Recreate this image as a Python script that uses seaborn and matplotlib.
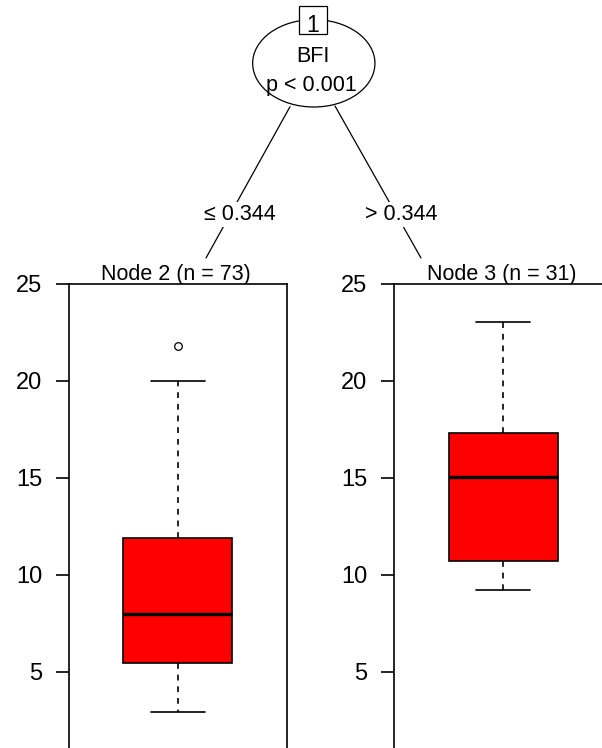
import matplotlib
matplotlib.use("Agg")
import matplotlib.pyplot as plt
from matplotlib.patches import Ellipse, Rectangle
import seaborn as sns

# ---- data ----
node_labels = ["Node 2 (n = 73)", "Node 3 (n = 31)"]
split_var = "BFI"
split_p = "p < 0.001"
edge_labels = ["\u2264 0.344", "> 0.344"]
whis_lo = [2.9, 9.2]
q1 = [5.46, 10.7]
median = [8.0, 15.05]
q3 = [11.9, 17.3]
whis_hi = [20.0, 23.05]
fliers = [[21.8], []]
yticks = [5, 10, 15, 20, 25]
y_min, y_max = 1.07, 25

sns.set_style("white")
plt.rcParams["font.family"] = ["Liberation Sans", "DejaVu Sans"]
plt.rcParams["text.color"] = "black"
plt.rcParams["axes.labelcolor"] = "black"

W, H = 602, 748
fig = plt.figure(figsize=(W / 100, H / 100), dpi=100)


def px_axes(x0, y0, x1, y1):
    return fig.add_axes([x0 / W, 1 - y1 / H, (x1 - x0) / W, (y1 - y0) / H])


# overlay for the tree part (pixel coordinates)
ax_t = px_axes(0, 0, W, H)
ax_t.set_xlim(0, W)
ax_t.set_ylim(H, 0)
ax_t.axis("off")
ax_t.patch.set_alpha(0)

FS_TXT = 15.5
FS_TICK = 17

# edges
ax_t.plot([290, 206], [106.7, 258], color="black", lw=0.9, zorder=1)
ax_t.plot([335, 421], [106.0, 258], color="black", lw=0.9, zorder=1)
bbox = dict(facecolor="white", edgecolor="none", pad=1.5)
ax_t.text(240, 220, edge_labels[0], ha="center", va="baseline", fontsize=FS_TXT, bbox=bbox, zorder=3)
ax_t.text(401.5, 220, edge_labels[1], ha="center", va="baseline", fontsize=FS_TXT, bbox=bbox, zorder=3)

# inner node
ax_t.add_patch(Ellipse((313.8, 63.3), 122.3, 87.4, facecolor="white", edgecolor="black", lw=0.9, zorder=2))
ax_t.add_patch(Rectangle((299, 5.7), 28, 28.3, facecolor="white", edgecolor="black", lw=0.9, zorder=4))
ax_t.text(313, 32, "1", ha="center", va="baseline", fontsize=16.5, zorder=5)
ax_t.text(313, 61.7, split_var, ha="center", va="baseline", fontsize=FS_TXT, zorder=5)
ax_t.text(311.7, 90.7, split_p, ha="center", va="baseline", fontsize=FS_TXT, zorder=5)

# terminal nodes
panel_x = [(68.7, 287.0), (394.0, 612.3)]
label_x = [176, 501.7]
for i in range(2):
    x0, x1 = panel_x[i]
    ax = px_axes(x0, 283.7, x1, H)
    stats = [dict(med=median[i], q1=q1[i], q3=q3[i], whislo=whis_lo[i],
                  whishi=whis_hi[i], fliers=fliers[i])]
    ax.bxp(stats, positions=[0.5], widths=0.5, patch_artist=True,
           boxprops=dict(facecolor="#FF0000", edgecolor="black", linewidth=1.2),
           medianprops=dict(color="black", linewidth=2.4, solid_capstyle="butt"),
           whiskerprops=dict(color="black", linewidth=1.2, linestyle=(0, (3.5, 3.5))),
           capprops=dict(color="black", linewidth=1.2),
           flierprops=dict(marker="o", markersize=5.5, markerfacecolor="white",
                           markeredgecolor="black", markeredgewidth=0.9))
    ax.set_xlim(0, 1)
    ax.set_ylim(y_min, y_max)
    ax.set_xticks([])
    ax.set_yticks(yticks)
    ax.set_yticklabels([str(t) for t in yticks])
    ax.tick_params(axis="y", length=9.5, width=1.2, pad=9.5, labelsize=FS_TICK,
                   colors="black", left=True)
    for s in ["left", "top", "right"]:
        ax.spines[s].set_visible(True)
        ax.spines[s].set_color("black")
        ax.spines[s].set_linewidth(1.2)
    ax.spines["bottom"].set_visible(False)
    ax.grid(False)
    ax_t.text(label_x[i], 279.5, node_labels[i], ha="center", va="baseline", fontsize=FS_TXT)

fig.savefig("out.png", dpi=100)
